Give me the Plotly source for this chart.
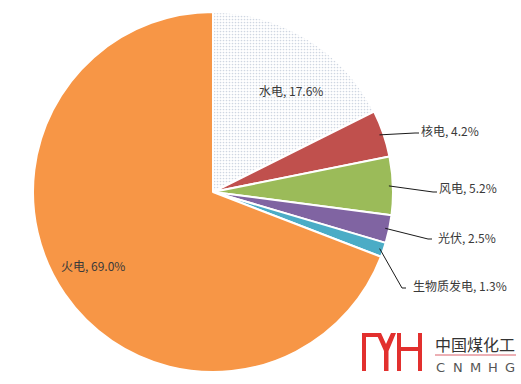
import math
import plotly.graph_objects as go

labels = ["水电", "核电", "风电", "光伏", "生物质发电", "火电"]
values = [17.6, 4.2, 5.2, 2.5, 1.3, 69.0]
colors = ["#FFFFFF", "#C0504D", "#9BBB59", "#8064A2", "#4BACC6", "#F79646"]
logo_cn = "中国煤化工"
logo_en = "CNMHG"

W, H = 521, 384
CX, CY, R = 213, 192, 180
FONT = "Noto Sans CJK SC, Microsoft YaHei, sans-serif"


def px(x):
    return x / W


def py(y):
    return 1 - y / H


fig = go.Figure(go.Pie(
    labels=labels, values=values, sort=False, direction="clockwise", rotation=0,
    marker=dict(
        colors=colors, line=dict(color="white", width=2),
        pattern=dict(shape=["."] + [""] * 5, fgcolor=["#9FAEC4"] + ["#000000"] * 5,
                     size=3, solidity=0.25, fillmode="overlay"),
    ),
    textinfo="none", hoverinfo="skip", showlegend=False,
    domain=dict(x=[px(CX - R), px(CX + R)], y=[py(CY + R), py(CY - R)]),
))

# label layout (pixel positions): inside labels centered, outside ones with leader
inside_pos = {"水电": (291, 90), "火电": (93, 265)}
outside_pos = {
    "核电": ((415, 133), (419, 131)),
    "风电": ((433, 192), (437, 188)),
    "光伏": ((428, 239), (436, 237)),
    "生物质发电": ((402, 288), (411, 285)),
}

total = sum(values)
cum = 0.0
shapes = []
annotations = []
for lab, v in zip(labels, values):
    mid = (cum + v / 2) / total * 2 * math.pi
    cum += v
    txt = f"{lab}, {v:.1f}%"
    if lab in inside_pos:
        x, y = inside_pos[lab]
        annotations.append(dict(x=px(x), y=py(y), xref="paper", yref="paper", text=txt,
                                showarrow=False, xanchor="center", yanchor="middle",
                                font=dict(family=FONT, size=12, color="#3a3a3a")))
    else:
        (ex, ey), (tx, ty) = outside_pos[lab]
        sx = CX + (R - 4) * math.sin(mid)
        sy = CY - (R - 4) * math.cos(mid)
        path = f"M {px(sx)} {py(sy)} L {px(ex)} {py(ey)} L {px(ex + 4)} {py(ey)}"
        shapes.append(dict(type="path", path=path, xref="paper", yref="paper",
                           line=dict(color="#1a1a1a", width=1)))
        annotations.append(dict(x=px(tx), y=py(ty), xref="paper", yref="paper", text=txt,
                                showarrow=False, xanchor="left", yanchor="middle",
                                font=dict(family=FONT, size=12, color="#3a3a3a")))

# logo
RED = "#E2302E"


def rect(x0, y0, x1, y1):
    return dict(type="rect", xref="paper", yref="paper", x0=px(x0), x1=px(x1),
                y0=py(y1), y1=py(y0), fillcolor=RED, line=dict(width=0))


shapes += [
    rect(362, 333, 366, 371),
    rect(362, 333, 379, 337),
    rect(397, 333, 401, 371),
    rect(401, 347, 418, 351),
    rect(418, 333, 422, 371),
]
ypts = [(376, 333), (381, 333), (386, 344), (391, 333), (396, 333), (388.5, 351),
        (388.5, 371), (384, 371), (384, 351)]
ypath = "M " + " L ".join(f"{px(a)} {py(b)}" for a, b in ypts) + " Z"
shapes.append(dict(type="path", path=ypath, xref="paper", yref="paper",
                   fillcolor=RED, line=dict(width=0)))
shapes.append(dict(type="line", xref="paper", yref="paper", x0=px(435), x1=px(516),
                   y0=py(355), y1=py(355), line=dict(color="#D9606A", width=1)))
annotations.append(dict(x=px(475), y=py(344), xref="paper", yref="paper", text=logo_cn,
                        showarrow=False, xanchor="center", yanchor="middle",
                        font=dict(family=FONT, size=16, color="#333333")))
for i, ch in enumerate(logo_en):
    annotations.append(dict(x=px(440 + i * 17.5), y=py(367), xref="paper", yref="paper",
                            text=ch, showarrow=False, xanchor="center", yanchor="middle",
                            font=dict(family="DejaVu Sans, sans-serif", size=13, color="#555555")))

fig.update_layout(width=W, height=H, margin=dict(l=0, r=0, t=0, b=0),
                  paper_bgcolor="white", plot_bgcolor="white",
                  shapes=shapes, annotations=annotations)
fig.write_html("out.html")
